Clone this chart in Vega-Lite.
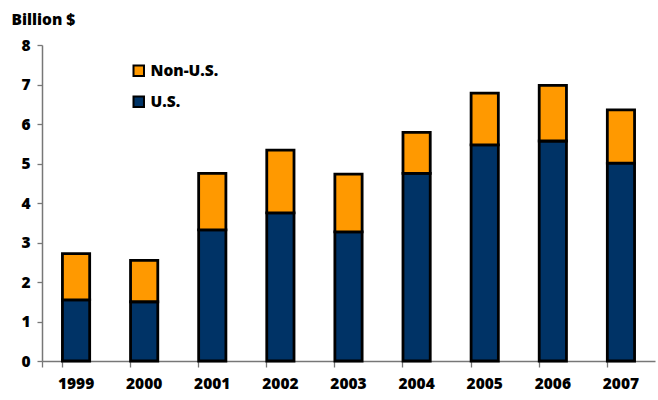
{
  "$schema": "https://vega.github.io/schema/vega-lite/v6.json",
  "autosize": "none",
  "width": 613,
  "height": 316,
  "padding": {"left": 42, "top": 45, "right": 3, "bottom": 39},
  "background": "white",
  "config": {
    "view": {"stroke": null},
    "font": "Open Sans"
  },
  "data": {
    "values": [
      {"year": "1999", "region": "U.S.", "value": 1.55},
      {"year": "1999", "region": "Non-U.S.", "value": 1.17},
      {"year": "2000", "region": "U.S.", "value": 1.50},
      {"year": "2000", "region": "Non-U.S.", "value": 1.05},
      {"year": "2001", "region": "U.S.", "value": 3.32},
      {"year": "2001", "region": "Non-U.S.", "value": 1.43},
      {"year": "2002", "region": "U.S.", "value": 3.75},
      {"year": "2002", "region": "Non-U.S.", "value": 1.59},
      {"year": "2003", "region": "U.S.", "value": 3.27},
      {"year": "2003", "region": "Non-U.S.", "value": 1.46},
      {"year": "2004", "region": "U.S.", "value": 4.75},
      {"year": "2004", "region": "Non-U.S.", "value": 1.04},
      {"year": "2005", "region": "U.S.", "value": 5.47},
      {"year": "2005", "region": "Non-U.S.", "value": 1.31},
      {"year": "2006", "region": "U.S.", "value": 5.57},
      {"year": "2006", "region": "Non-U.S.", "value": 1.41},
      {"year": "2007", "region": "U.S.", "value": 5.01},
      {"year": "2007", "region": "Non-U.S.", "value": 1.35}
    ]
  },
  "mark": {"type": "bar", "stroke": "black", "strokeWidth": 2.8, "strokeJoin": "miter"},
  "encoding": {
    "x": {
      "field": "year",
      "type": "ordinal",
      "scale": {"paddingInner": 0.6, "paddingOuter": 0.3},
      "axis": {
        "title": null,
        "labelAngle": 0,
        "labelFont": "Open Sans",
        "labelFontWeight": 800,
        "labelFontSize": 15.5,
        "labelColor": "black",
        "labelPadding": 9,
        "bandPosition": 0,
        "tickExtra": true,
        "ticks": true,
        "tickSize": 6,
        "tickWidth": 1.3,
        "tickColor": "#777777",
        "domainColor": "#777777",
        "domainWidth": 1.5
      }
    },
    "y": {
      "field": "value",
      "type": "quantitative",
      "stack": "zero",
      "scale": {"domain": [0, 8], "nice": false},
      "axis": {
        "title": "Billion $",
        "titleAngle": 0,
        "titleAlign": "left",
        "titleBaseline": "alphabetic",
        "titleX": -31,
        "titleY": -21,
        "titleFont": "Open Sans",
        "titleFontWeight": 800,
        "titleFontSize": 15.5,
        "titleColor": "black",
        "values": [0, 1, 2, 3, 4, 5, 6, 7, 8],
        "grid": false,
        "labelFont": "Open Sans",
        "labelFontWeight": 800,
        "labelFontSize": 15.5,
        "labelColor": "black",
        "labelPadding": 7,
        "tickSize": 5,
        "tickWidth": 1.3,
        "tickColor": "#777777",
        "domainColor": "#777777",
        "domainWidth": 1.5
      }
    },
    "color": {
      "field": "region",
      "type": "nominal",
      "scale": {"domain": ["Non-U.S.", "U.S."], "range": ["#FF9900", "#003366"]},
      "legend": {
        "title": null,
        "orient": "none",
        "legendX": 89,
        "legendY": 18,
        "symbolType": "square",
        "symbolSize": 110,
        "symbolStrokeColor": "black",
        "symbolStrokeWidth": 2,
        "symbolOpacity": 1,
        "labelFont": "Open Sans",
        "labelFontWeight": 800,
        "labelFontSize": 15.5,
        "labelColor": "black",
        "labelOffset": 4,
        "rowPadding": 12
      }
    },
    "order": {"field": "region", "sort": "descending"}
  }
}
